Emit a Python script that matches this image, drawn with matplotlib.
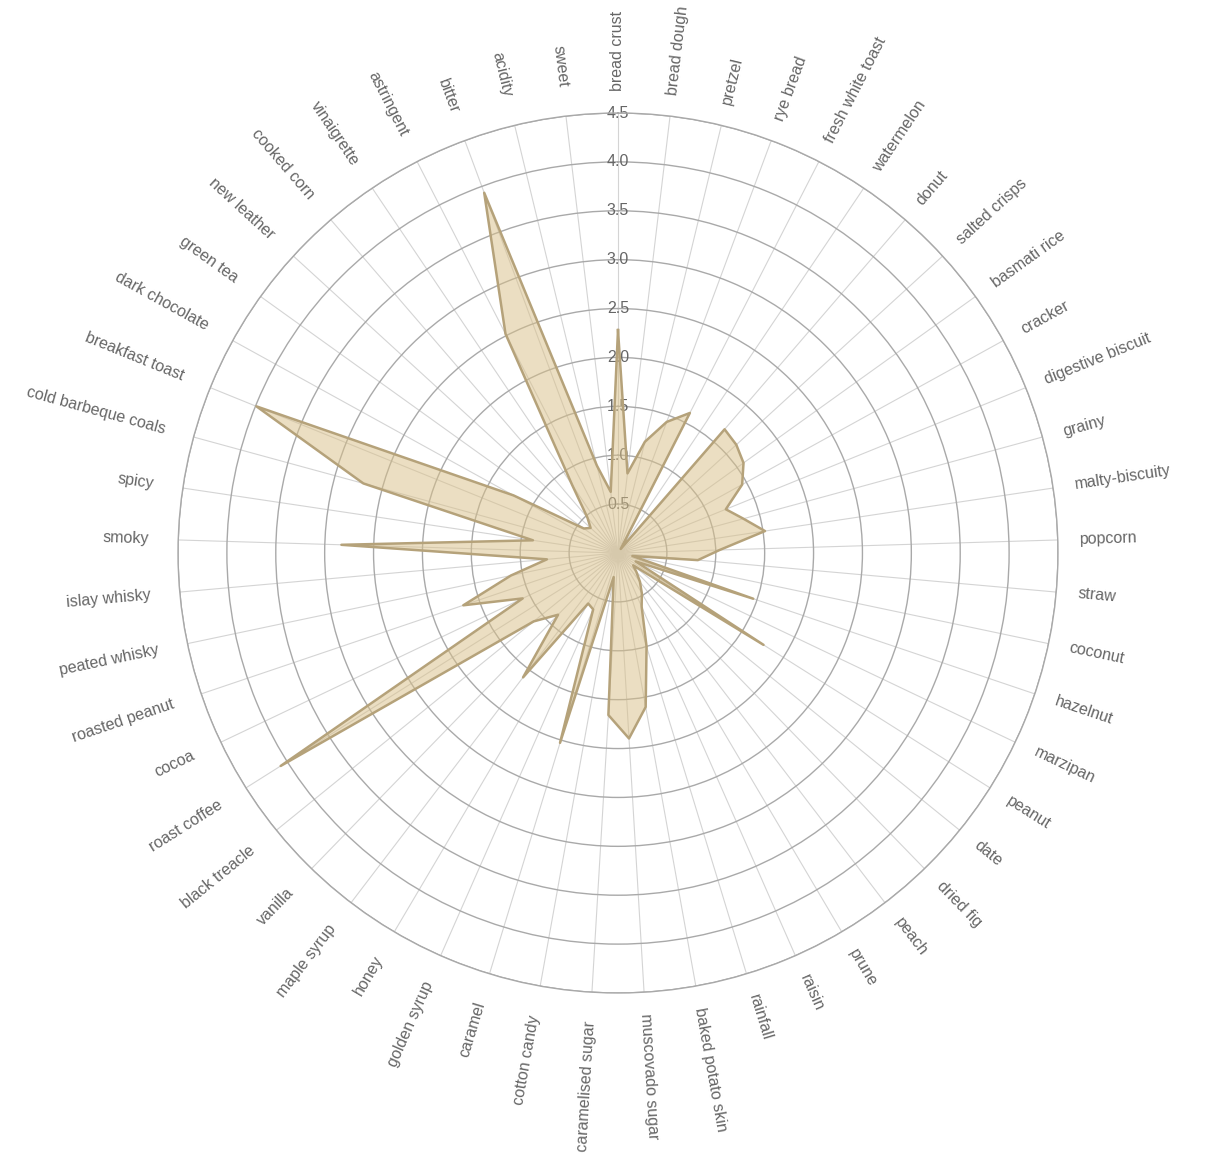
import numpy as np
import matplotlib
matplotlib.use("Agg")
import matplotlib.pyplot as plt

categories = [
    "bread crust", "bread dough", "pretzel", "rye bread", "fresh white toast",
    "watermelon", "donut", "salted crisps", "basmati rice", "cracker",
    "digestive biscuit", "grainy", "malty-biscuity", "popcorn", "straw",
    "coconut", "hazelnut", "marzipan", "peanut", "date", "dried fig", "peach",
    "prune", "raisin", "rainfall", "baked potato skin", "muscovado sugar",
    "caramelised sugar", "cotton candy", "caramel", "golden syrup", "honey",
    "maple syrup", "vanilla", "black treacle", "roast coffee", "cocoa",
    "roasted peanut", "peated whisky", "islay whisky", "smoky", "spicy",
    "cold barbeque coals", "breakfast toast", "dark chocolate", "green tea",
    "new leather", "cooked corn", "vinaigrette", "astringent", "bitter",
    "acidity", "sweet",
]

values = [
    2.28, 0.82, 1.17, 1.43, 1.61,
    0.05, 1.67, 1.64, 1.58, 1.45,
    1.19, 1.33, 1.52, 1.04, 0.82,
    0.15, 1.46, 0.20, 1.76, 0.20, 0.27, 0.37,
    0.48, 0.60, 1.00, 1.60, 1.90,
    1.66, 0.25, 2.03, 0.63, 0.60,
    1.60, 0.88, 1.11, 4.08, 1.08,
    1.67, 1.12, 0.73, 2.83, 0.88,
    2.70, 3.99, 1.22, 0.43,
    0.38, 0.48, 0.84, 2.52, 3.93,
    0.92, 0.63,
]

r_ticks = [0.5, 1.0, 1.5, 2.0, 2.5, 3.0, 3.5, 4.0, 4.5]
r_max = 4.5

FONT = ["Liberation Sans", "DejaVu Sans"]
TEXT_COLOR = "#666666"

W, H = 1209, 1153
fig = plt.figure(figsize=(W / 100, H / 100), dpi=100)
cx, cy, R = 618, 553, 440
ax = fig.add_axes([(cx - R) / W, (H - cy - R) / H, 2 * R / W, 2 * R / H],
                  projection="polar")
ax.set_theta_offset(np.pi / 2)
ax.set_theta_direction(-1)

n = len(categories)
angles = np.arange(n) * 2 * np.pi / n

ax.set_ylim(0, r_max)
ax.set_xticks(angles)
ax.set_xticklabels([])
ax.set_yticks(r_ticks)
ax.set_yticklabels([])
ax.tick_params(length=0)
ax.set_axisbelow(True)
ax.xaxis.grid(True, color="#d4d4d4", lw=0.8)
ax.yaxis.grid(True, color="#a9a9a9", lw=1.0)
ax.spines["polar"].set_color("#a9a9a9")
ax.spines["polar"].set_linewidth(1.0)

for r in r_ticks:
    ax.text(0, r, f"{r:.1f}", ha="center", va="center", color=TEXT_COLOR,
            fontsize=11.5, family=FONT, zorder=1.5)

th = np.append(angles, angles[0])
vv = np.append(values, values[0])
ax.fill(th, vv, color="#d9bf86", alpha=0.5, lw=0, zorder=2)
ax.plot(th, vv, color="#b5a27a", lw=1.8, zorder=3)

for ang, lab in zip(angles, categories):
    deg = np.degrees(ang)
    phi = 90 - deg
    if deg <= 180:
        rot, ha, lr = phi, "left", r_max + 0.22
    else:
        rot, ha, lr = phi + 180, "right", r_max + 0.30
    ax.text(ang, lr, lab, rotation=rot, rotation_mode="anchor",
            ha=ha, va="center", color=TEXT_COLOR, fontsize=11.5, family=FONT)

fig.savefig("out.png", dpi=100)
